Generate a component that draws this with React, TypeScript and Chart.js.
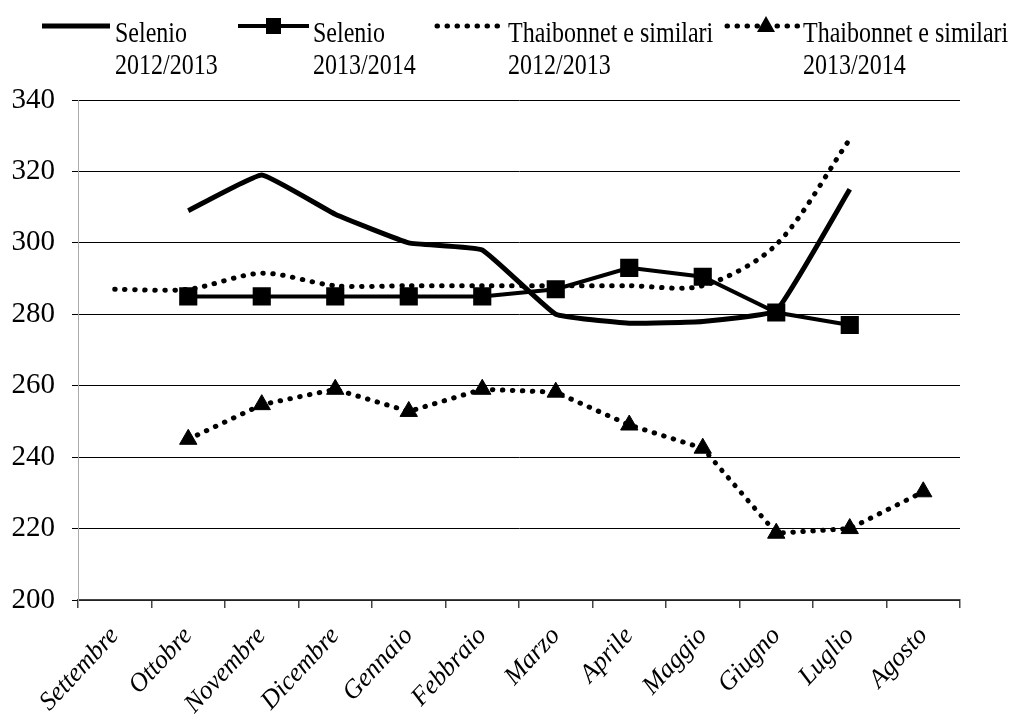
import React, { useEffect, useRef } from 'react';
import { Chart, registerables } from 'chart.js';

Chart.register(...registerables);

const months = ['Settembre', 'Ottobre', 'Novembre', 'Dicembre', 'Gennaio', 'Febbraio', 'Marzo', 'Aprile', 'Maggio', 'Giugno', 'Luglio', 'Agosto'];

const selenio1213 = [null, 309, 319, 308, 300, 298, 280, 277.5, 278, 281, 315, null];
const selenio1314 = [null, 285, 285, 285, 285, 285, 287, 293, 290.5, 280.5, 277, null];
const thai1213 = [287, 287, 291.5, 288, 288, 288, 288, 288, 288, 299.5, 329, null];
const thai1314 = [null, 245, 254.7, 259, 252.8, 259, 258.2, 249, 242.5, 218.7, 220, 230.3];

const seriesNames = [
  ['Selenio', '2012/2013'],
  ['Selenio', '2013/2014'],
  ['Thaibonnet e similari', '2012/2013'],
  ['Thaibonnet e similari', '2013/2014'],
];

const yMin = 200;
const yMax = 340;
const yStep = 20;

const legendPlugin = {
  id: 'customLegend',
  afterDraw(chart: any) {
    const ctx = chart.ctx as CanvasRenderingContext2D;
    ctx.save();
    ctx.strokeStyle = '#000';
    ctx.fillStyle = '#000';
    const sy = 26;
    // item 1: solid line
    ctx.lineWidth = 5;
    ctx.beginPath();
    ctx.moveTo(42, sy);
    ctx.lineTo(110, sy);
    ctx.stroke();
    // item 2: line + square
    ctx.lineWidth = 4;
    ctx.beginPath();
    ctx.moveTo(238, sy);
    ctx.lineTo(309, sy);
    ctx.stroke();
    ctx.fillRect(266, sy - 8, 15, 16);
    // item 3: dots
    ctx.lineWidth = 5;
    ctx.lineCap = 'round';
    ctx.setLineDash([0.5, 9.5]);
    ctx.beginPath();
    ctx.moveTo(437, sy);
    ctx.lineTo(502, sy);
    ctx.stroke();
    // item 4: dots + triangle
    ctx.beginPath();
    ctx.moveTo(727, sy);
    ctx.lineTo(798, sy);
    ctx.stroke();
    ctx.setLineDash([]);
    ctx.beginPath();
    ctx.moveTo(766, sy - 10);
    ctx.lineTo(775, sy + 6);
    ctx.lineTo(757, sy + 6);
    ctx.closePath();
    ctx.fill();

    // texts
    const entries = [115, 313, 508, 803];
    ctx.font = '30px "Liberation Serif"';
    ctx.textBaseline = 'alphabetic';
    ctx.textAlign = 'left';
    const sx = 0.8;
    entries.forEach((x, i) => {
      ctx.save();
      ctx.translate(x, 42);
      ctx.scale(sx, 1);
      ctx.fillText(seriesNames[i][0], 0, 0);
      ctx.fillText(seriesNames[i][1], 0, 32);
      ctx.restore();
    });
    ctx.restore();
  },
};

export default function App() {
  const canvasRef = useRef<HTMLCanvasElement | null>(null);

  useEffect(() => {
    if (!canvasRef.current) return;
    const dots = [0.5, 9.5];
    const chart = new Chart(canvasRef.current, {
      type: 'line',
      data: {
        labels: months,
        datasets: [
          {
            label: seriesNames[0].join(' '),
            data: selenio1213,
            borderColor: '#000',
            backgroundColor: '#000',
            borderWidth: 5,
            pointRadius: 0,
            tension: 0.1,
          },
          {
            label: seriesNames[1].join(' '),
            data: selenio1314,
            borderColor: '#000',
            backgroundColor: '#000',
            borderWidth: 4,
            pointStyle: 'rect',
            pointRadius: 10,
            pointBackgroundColor: '#000',
            pointBorderColor: '#000',
            tension: 0,
          },
          {
            label: seriesNames[2].join(' '),
            data: thai1213,
            borderColor: '#000',
            backgroundColor: '#000',
            borderWidth: 5,
            borderDash: dots,
            borderCapStyle: 'round',
            pointRadius: 0,
            tension: 0.3,
          },
          {
            label: seriesNames[3].join(' '),
            data: thai1314,
            borderColor: '#000',
            backgroundColor: '#000',
            borderWidth: 5,
            borderDash: dots,
            borderCapStyle: 'round',
            pointStyle: 'triangle',
            pointRadius: 10,
            pointBackgroundColor: '#000',
            pointBorderColor: '#000',
            pointBorderWidth: 1,
            tension: 0,
          },
        ],
      },
      options: {
        animation: false,
        responsive: false,
        devicePixelRatio: 1,
        layout: { padding: { top: 100, right: 56, left: 0, bottom: 0 } },
        plugins: {
          legend: { display: false },
          tooltip: { enabled: false },
        },
        scales: {
          x: {
            offset: true,
            grid: {
              offset: true,
              drawOnChartArea: false,
              color: '#444',
              lineWidth: 1.5,
              tickLength: 8,
            },
            border: { color: '#444', width: 1.5 },
            ticks: {
              autoSkip: false,
              maxRotation: 47,
              minRotation: 47,
              color: '#000',
              padding: 13,
              font: { family: '"Liberation Serif"', size: 26, style: 'italic' },
            },
            afterFit: (s: any) => {
              s.height = 121;
            },
          },
          y: {
            min: yMin,
            max: yMax,
            ticks: {
              stepSize: yStep,
              color: '#000',
              padding: 17,
              font: { family: '"Liberation Serif"', size: 29 },
            },
            grid: { color: '#000', lineWidth: 1, tickLength: 6 },
            border: { color: '#aaa', width: 1 },
            afterFit: (s: any) => {
              s.width = 78;
            },
          },
        },
      },
      plugins: [legendPlugin],
    });
    return () => chart.destroy();
  }, []);

  return (
    <div style={{ position: 'absolute', left: 0, top: 0, width: 1016, height: 721, background: '#fff' }}>
      <canvas ref={canvasRef} width={1016} height={721} />
    </div>
  );
}
